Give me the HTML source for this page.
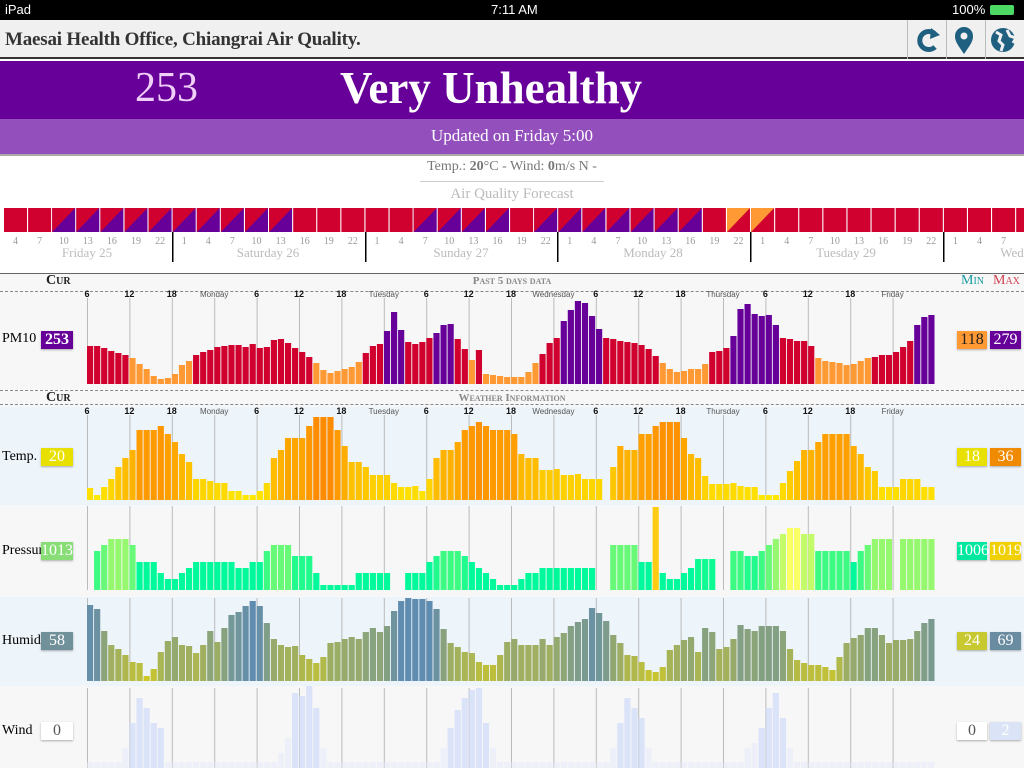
<!DOCTYPE html>
<html><head><meta charset="utf-8">
<style>
*{margin:0;padding:0;box-sizing:border-box}
body{width:1024px;height:768px;overflow:hidden;background:#fff;font-family:"Liberation Serif",serif;position:relative}
.abs{position:absolute}
.sc{font-variant:small-caps}
.box{position:absolute;height:18px;font-size:16px;line-height:18px;text-align:center;font-family:"Liberation Serif",serif;box-shadow:0 1px 2px rgba(0,0,0,.3)}
</style></head><body>
<div class="abs" style="left:0;top:0;width:1024px;height:20px;background:#000;color:#fff;font-family:'Liberation Sans',sans-serif;font-size:13px;line-height:20px">
 <span class="abs" style="left:5px">iPad</span>
 <span class="abs" style="left:491px">7:11 AM</span>
 <span class="abs" style="left:952px">100%</span>
 <span class="abs" style="left:990px;top:5px;width:24px;height:10px;background:#4cd964;border-radius:2px"></span>
</div>
<div class="abs" style="left:0;top:20px;width:1024px;height:39px;background:#f0f0f0;border-bottom:2px solid #333"></div>
<div class="abs" style="left:5px;top:29px;font-size:19px;font-weight:bold;color:#333;letter-spacing:-0.2px">Maesai Health Office, Chiangrai Air Quality.</div>
<div class="abs" style="left:907px;top:20px;width:1px;height:39px;background:#bbb"></div>
<div class="abs" style="left:946px;top:20px;width:1px;height:39px;background:#bbb"></div>
<div class="abs" style="left:985px;top:20px;width:1px;height:39px;background:#bbb"></div>
<svg class="abs" style="left:907px;top:20px" width="117" height="39">
 <path d="M28 14 A9 9 0 1 0 28 27" stroke="#1f5f80" stroke-width="5" fill="none"/>
 <polygon points="24,8 33,15 23,19" fill="#1f5f80"/>
 <path d="M57 34 C50 24 48 21 48 16 A9 9 0 0 1 66 16 C66 21 64 24 57 34Z" fill="#1f5f80"/>
 <circle cx="57" cy="16" r="3.5" fill="#f0f0f0"/>
 <circle cx="96" cy="20" r="12" fill="#1f5f80"/>
 <path d="M89 12 l5 3 -2 6 4 4 -2 6 M100 10 l3 6 6 2 -3 5" stroke="#f0f0f0" stroke-width="3" fill="none"/>
</svg>
<div class="abs" style="left:0;top:61px;width:1024px;height:58px;background:#660099"></div>
<div class="abs" style="left:135px;top:64px;font-size:42px;color:#f0d0f8">253</div>
<div class="abs" style="left:340px;top:62px;font-size:45px;font-weight:bold;color:#fff">Very Unhealthy</div>
<div class="abs" style="left:0;top:119px;width:1024px;height:35px;background:#9350bd"></div>
<div class="abs" style="left:0;top:126px;width:1024px;text-align:center;font-size:17px;color:#fff">Updated on Friday 5:00</div>
<div class="abs" style="left:0;top:154px;width:1024px;height:2px;background:#aaa"></div>
<div class="abs" style="left:0;top:159px;width:1024px;text-align:center;font-size:14px;color:#777">Temp.: <b>20</b>°C - Wind: <b>0</b>m/s N -</div>
<div class="abs" style="left:420px;top:181px;width:184px;height:1px;background:#ccc"></div>
<div class="abs" style="left:0;top:186px;width:1024px;text-align:center;font-size:15px;color:#bbb">Air Quality Forecast</div>
<svg id="fc" class="abs" style="left:0;top:200px" width="1024" height="70"></svg>
<div class="abs" style="left:0;top:273px;width:1024px;height:1px;background:#666"></div>
<div class="abs" style="left:0;top:274px;width:1024px;height:116px;background:#f7f7f7"></div>
<div class="abs" style="left:0;top:391px;width:1024px;height:16px;background:#f7f7f7"></div>
<div class="abs" style="left:0;top:407px;width:1024px;height:98px;background:#edf4fa"></div>
<div class="abs" style="left:0;top:505px;width:1024px;height:92px;background:#f7f7f7"></div>
<div class="abs" style="left:0;top:597px;width:1024px;height:89px;background:#edf4fa"></div>
<div class="abs" style="left:0;top:686px;width:1024px;height:82px;background:#f7f7f7"></div>
<div class="abs sc" style="left:46px;top:273px;font-size:14px;font-weight:bold;color:#222">Cur</div>
<div class="abs sc" style="left:0;top:275px;width:1024px;text-align:center;font-size:11px;font-weight:bold;color:#888">Past 5 days data</div>
<div class="abs sc" style="left:961px;top:273px;font-size:14px;color:#1a9aa0">Min</div>
<div class="abs sc" style="left:993px;top:273px;font-size:14px;color:#d04050">Max</div>
<div class="abs" style="left:0;top:291px;width:1024px;border-top:1px dashed #888"></div>
<div class="abs" style="left:0;top:390px;width:1024px;border-top:1px dashed #888"></div>
<div class="abs sc" style="left:46px;top:390px;font-size:14px;font-weight:bold;color:#222">Cur</div>
<div class="abs sc" style="left:0;top:392px;width:1024px;text-align:center;font-size:11px;font-weight:bold;color:#888">Weather Information</div>
<div class="abs" style="left:0;top:404px;width:1024px;border-top:1px dashed #888"></div>
<svg id="ch" class="abs" style="left:0;top:0" width="1024" height="768"></svg>
<div class="abs" style="left:2px;top:331px;font-size:14px">PM10</div>
<div class="box" style="left:41px;top:331px;width:32px;background:#660099;color:#fff;font-weight:bold">253</div>
<div class="abs" style="left:2px;top:449px;font-size:14px">Temp.</div>
<div class="box" style="left:41px;top:448px;width:32px;background:#e8e000;color:#fff">20</div>
<div class="abs" style="left:2px;top:543px;font-size:14px;width:39px;overflow:hidden;white-space:nowrap">Pressure</div>
<div class="box" style="left:41px;top:542px;width:32px;background:#88dd77;color:#fff">1013</div>
<div class="abs" style="left:2px;top:633px;font-size:14px">Humid</div>
<div class="box" style="left:41px;top:632px;width:32px;background:#70909a;color:#fff">58</div>
<div class="abs" style="left:2px;top:723px;font-size:14px">Wind</div>
<div class="box" style="left:41px;top:722px;width:32px;background:#fff;color:#555">0</div>
<div class="box" style="left:957px;top:331px;width:30px;background:#ff9933;color:#222">118</div>
<div class="box" style="left:990px;top:331px;width:31px;background:#660099;color:#fff">279</div>
<div class="box" style="left:957px;top:448px;width:30px;background:#e8e000;color:#fff">18</div>
<div class="box" style="left:990px;top:448px;width:31px;background:#f08a00;color:#fff">36</div>
<div class="box" style="left:957px;top:542px;width:30px;background:#00e8a0;color:#fff">1006</div>
<div class="box" style="left:990px;top:542px;width:31px;background:#f0d000;color:#fff">1019</div>
<div class="box" style="left:957px;top:632px;width:30px;background:#c8c830;color:#fff">24</div>
<div class="box" style="left:990px;top:632px;width:31px;background:#6a8ca0;color:#fff">69</div>
<div class="box" style="left:957px;top:722px;width:30px;background:#fff;color:#555">0</div>
<div class="box" style="left:990px;top:722px;width:31px;background:#dbe4f6;color:#fff">2</div>
<script>
var NS="http://www.w3.org/2000/svg";
function el(p,t,a,txt){var e=document.createElementNS(NS,t);for(var k in a)e.setAttribute(k,a[k]);if(txt!=null)e.textContent=txt;p.appendChild(e);return e;}
var fc=document.getElementById('fc');
var pat="RRSSSSS"+"SSSSSRRR"+"RRSSSSRS"+"SSSSSSRO"+"ORRRRRRR"+"RRRR";
var hrs=[4,7,10,13,16,19,22];
for(var i=0;i<pat.length;i++){
 var x=4+i*24.1,y=8,w=23,h=24,c=pat[i];
 if(c=='R')el(fc,'rect',{x:x,y:y,width:w,height:h,fill:'#d0002f'});
 else{var c2=c=='S'?'#d0002f':'#ff9933',c3=c=='S'?'#660099':'#d0002f';
  el(fc,'rect',{x:x,y:y,width:w,height:h,fill:c3});
  el(fc,'polygon',{points:x+','+y+' '+(x+w)+','+y+' '+x+','+(y+h),fill:c2});}
 var hr=i<7?hrs[i]:[1,4,7,10,13,16,19,22][(i-7)%8];
 el(fc,'text',{x:x+11.5,y:44,'text-anchor':'middle','font-size':10,fill:'#999','font-family':'Liberation Serif'},hr);
}
[172,365,557,750,943].forEach(function(x){el(fc,'rect',{x:x,y:32,width:1.5,height:30,fill:'#000'});});
[["Friday 25",87],["Saturday 26",268],["Sunday 27",461],["Monday 28",653],["Tuesday 29",846],["Wed",1012]].forEach(function(d){
 el(fc,'text',{x:d[1],y:57,'text-anchor':'middle','font-size':13,fill:'#bbb','font-family':'Liberation Serif'},d[0]);});
var ch=document.getElementById('ch');
var X0=87,BW=7.07,GS=42.4;
var labs=["6","12","18","Monday","6","12","18","Tuesday","6","12","18","Wednesday","6","12","18","Thursday","6","12","18","Friday"];
function grid(y0,y1,lab){for(var k=0;k<20;k++){var x=X0+k*GS;
 el(ch,'rect',{x:x,y:lab?y0+5:y0,width:1,height:y1-(lab?y0+5:y0),fill:'#bbb'});
 if(lab){var isD=isNaN(labs[k]);el(ch,'text',{x:x,y:y0+4,'text-anchor':'middle','font-size':isD?8:9,'font-weight':isD?'normal':'bold',fill:isD?'#555':'#111','font-family':'Liberation Sans'},labs[k]);}}}
function bars(arr,base,colf){for(var i=0;i<arr.length;i++){if(!arr[i])continue;
 el(ch,'rect',{x:X0+i*BW,y:base-arr[i],width:BW-0.9,height:arr[i],fill:colf(arr[i])});}}
function lerp(a,b,t){t=Math.max(0,Math.min(1,t));return 'rgb('+a.map(function(v,i){return Math.round(v+(b[i]-v)*t)}).join(',')+')';}
var pm=[38,38,36,33,31,29,26,20,15,8,5,6,10,19,23,29,32,34,37,38,39,39,37,40,36,37,44,45,41,36,32,27,21,14,11,13,15,17,22,31,38,40,53,72,54,42,40,42,46,51,59,60,45,35,24,34,10,9,8,7,7,7,12,21,30,41,46,63,74,83,81,68,55,46,45,43,42,41,39,35,28,21,15,12,13,15,15,20,32,33,36,48,75,80,70,68,69,59,46,45,43,43,38,26,23,22,21,19,20,23,26,27,29,29,32,37,43,59,67,69];
grid(293,384,true);
bars(pm,384,function(h){return h<27?'#ff9933':(h<48?'#d0002f':'#660099');});
var tp=[12,5,13,21,33,42,50,70,70,70,74,66,58,46,38,21,21,19,17,17,9,9,5,5,9,17,42,50,62,62,62,74,83,83,83,70,54,38,38,33,25,25,25,17,13,13,14,9,21,42,50,50,58,70,74,78,74,70,70,70,66,46,42,42,30,30,31,25,25,26,21,21,21,0,33,54,50,50,66,66,74,78,78,78,62,46,42,24,16,16,16,17,14,13,13,5,5,5,17,29,39,50,50,58,66,66,66,66,54,46,33,29,13,13,13,21,21,21,13,13];
grid(410,500,true);
bars(tp,500,function(h){return lerp([255,232,0],[255,140,0],(h-5)/78);});
grid(506,590,false);
var ps=[[16,29,39],[29,42,45],[42,82,51],[82,95,45],[95,133,28],[133,147,17],[147,173,11],[173,186,17],[186,199,22],[199,276,28],[276,302,22],[302,328,28],[328,341,39],[341,380,45],[380,418,34],[418,431,17],[431,498,5],[498,562,17],[589,627,17],[627,640,28],[640,654,34],[654,692,39],[692,705,34],[705,718,28],[718,731,22],[731,744,17],[744,757,11],[757,796,5],[796,809,11],[809,836,17],[836,940,22],[966,1018,45],[1018,1044,28],[1044,1056,83],[1056,1070,17],[1070,1096,11],[1096,1109,17],[1109,1122,22],[1122,1160,31],[1186,1213,39],[1213,1239,34],[1239,1252,39],[1252,1265,45],[1265,1278,51],[1278,1291,56],[1291,1316,62],[1316,1342,56],[1342,1408,39],[1408,1420,28],[1420,1434,39],[1434,1447,45],[1447,1486,51],[1499,1560,51]];
var pa=[];for(var i=0;i<120;i++){var cx=X0+i*BW+BW/2,zx=(cx-85)*1.84;pa[i]=0;ps.forEach(function(s){if(zx>=s[0]&&zx<s[1])pa[i]=s[2];});}
function pcol(h){if(h>70)return '#ffcc11';if(h<=28)return 'rgb(0,250,155)';if(h<=39)return lerp([0,250,155],[60,250,130],(h-28)/11);if(h<=51)return lerp([60,250,130],[150,248,110],(h-39)/12);return lerp([150,248,110],[250,255,100],(h-51)/11);}
bars(pa,590,pcol);
grid(598,681,false);
var hu=[76,72,50,36,32,26,19,18,5,12,29,40,44,36,35,28,36,50,39,53,66,69,75,80,75,58,42,36,34,35,26,22,18,24,38,39,42,44,42,49,53,49,55,70,80,83,82,82,80,72,52,38,34,29,28,19,16,16,26,39,42,36,36,36,42,36,44,48,55,59,62,73,68,60,46,38,26,25,19,11,9,14,31,36,41,44,29,53,49,32,34,42,56,52,50,55,55,55,50,32,21,18,16,16,14,11,24,38,43,46,53,53,46,38,41,41,42,50,58,62];
bars(hu,681,function(h){return lerp([205,200,40],[96,140,176],(h-5)/75);});
grid(688,768,false);
var wd=[];for(var i=0;i<120;i++)wd[i]=6;
function pk(c,vals){vals.forEach(function(v,j){wd[c+j]=v;});}
pk(5,[20,45,70,60,45,40]);pk(27,[15,30,75,72,82,60,20]);pk(50,[20,40,58,70,78,80,45,20]);pk(74,[20,45,70,60,50,20]);pk(93,[20,25,40,60,75,50,20]);
for(var i=0;i<120;i++){var h=wd[i];el(ch,'rect',{x:X0+i*BW,y:768-h,width:BW-0.9,height:h,fill:h>30?'rgba(205,218,248,0.7)':'rgba(228,234,250,0.5)'});}
</script>
</body></html>
